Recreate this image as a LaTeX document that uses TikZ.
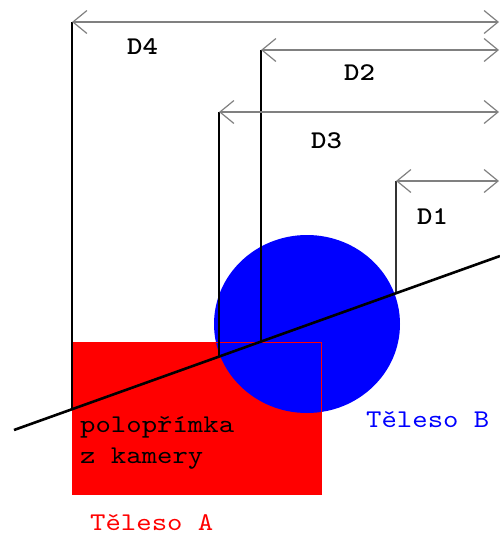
\documentclass[tikz,border=0pt]{standalone}
\usepackage{fontspec}
\newfontfamily\courfont{lmmono10-regular.otf}[FakeStretch=1.15, BoldFont=lmmonolt10-bold.otf]
\usetikzlibrary{arrows.meta}

\begin{document}
\begin{tikzpicture}[x=1pt, y=-1pt,
        dim/.style={draw=gray, line width=1.2pt,
            {Straight Barb[length=14pt, width=23pt]}-{Straight Barb[length=14pt, width=23pt]}},
        leg/.style={draw=black, line width=1.6pt},
        txt/.style={font=\fontsize{25.5}{30}\selectfont\courfont, inner sep=0pt, anchor=base west},
        dlbl/.style={txt, font=\fontsize{25.5}{30}\selectfont\courfont\bfseries}
    ]
        \useasboundingbox (0,0) rectangle (500,536);

        % bodies A and B
        \fill[red] (72,342) rectangle (321,494);
        \fill[blue] (307,324) ellipse [x radius=93, y radius=89];
        \draw[red, line width=1pt] (72,342) rectangle (321,494);

        % ray and the points where it is measured
        \coordinate (r0) at (14,430);
        \coordinate (r1) at (500,256);
        \coordinate (h4) at (72,409.2);
        \coordinate (h3) at (219,356.6);
        \coordinate (h2) at (261,341.6);
        \coordinate (h1) at (396,293.2);

        % tops of the distances
        \coordinate (t4) at (72,22);
        \coordinate (t2) at (261,50);
        \coordinate (t3) at (219,112);
        \coordinate (t1) at (396,181);
        \coordinate (e4) at (499,22);
        \coordinate (e2) at (499,50);
        \coordinate (e3) at (499,112);
        \coordinate (e1) at (499,181);

        \draw[leg] (t4) -- (h4);
        \draw[leg] (t3) -- (h3);
        \draw[leg] (t2) -- (h2);
        \draw[leg, draw=black!80, line width=1.1pt] (t1) -- (h1);

        \draw[dim] (t4) -- (e4);
        \draw[dim] (t2) -- (e2);
        \draw[dim] (t3) -- (e3);
        \draw[dim] (t1) -- (e1);

        \draw[line width=2.6pt] (r0) -- (r1);

        \node[dlbl] (d4) at (127,54) {D4};
        \node[dlbl] (d2) at (344,80) {D2};
        \node[dlbl] (d3) at (311,148) {D3};
        \node[dlbl] (d1) at (417,224) {D1};

        \node[txt] (ray1) at (80,432) {polopřímka};
        \node[txt] (ray2) at ([yshift=-31pt]ray1.base west) {z kamery};
        \node[txt, blue] (bodyB) at (366,427) {Těleso B};
        \node[txt, red] (bodyA) at (90,530) {Těleso A};
    \end{tikzpicture}
\end{document}
